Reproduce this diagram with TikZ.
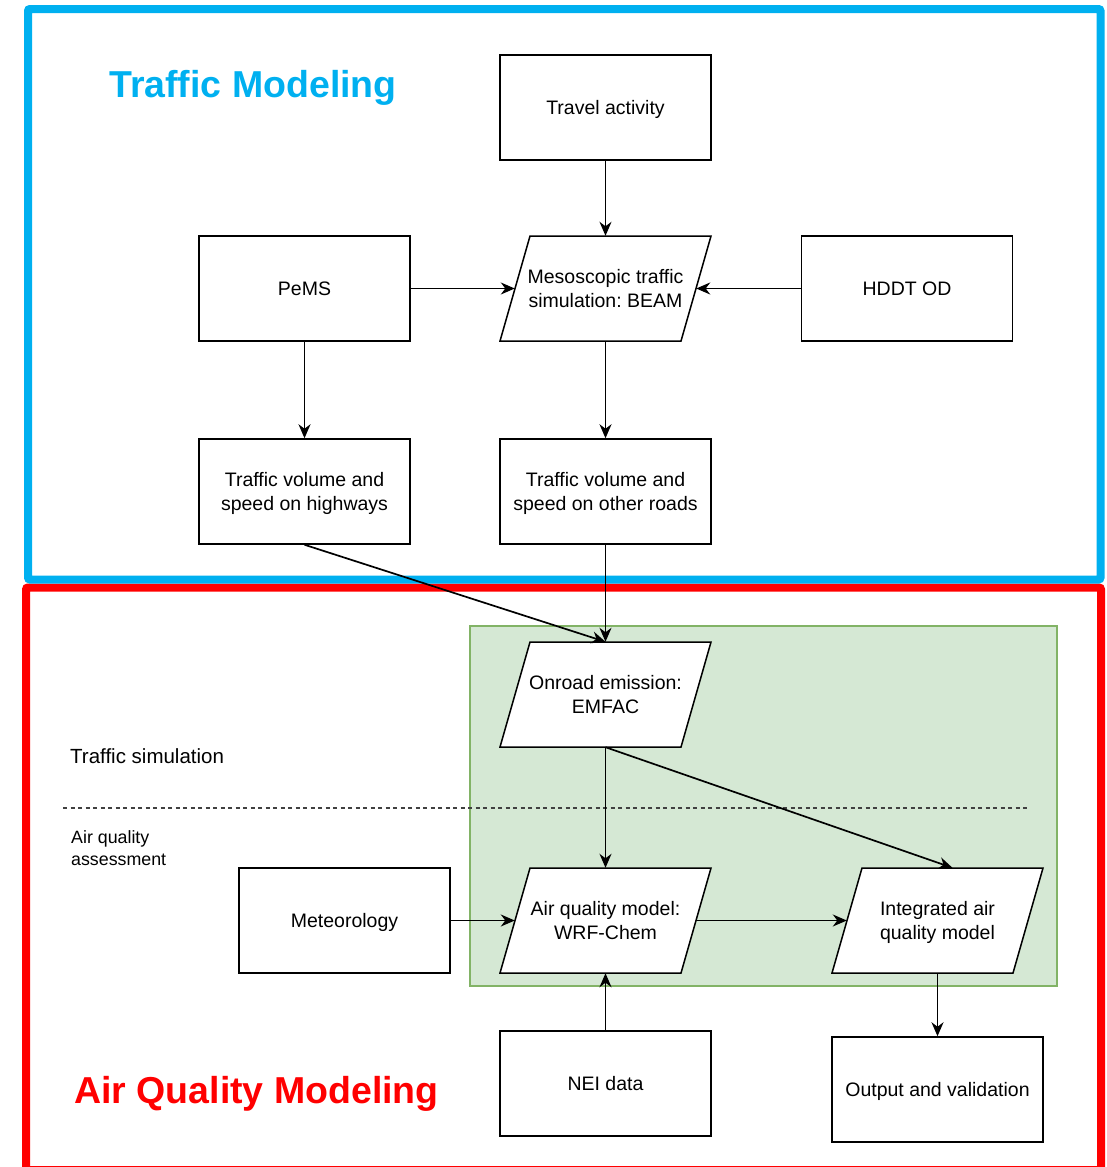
\documentclass[tikz,border=0pt]{standalone}
\usepackage{fontspec}
\setmainfont{Liberation Sans}
\usetikzlibrary{arrows.meta,calc}
\frenchspacing
\definecolor{tmblue}{HTML}{00B0F0}
\definecolor{aqred}{HTML}{FF0000}
\definecolor{gfill}{HTML}{D5E8D4}
\definecolor{gline}{HTML}{82B366}
\newcommand\bt[1]{\raisebox{-2.5pt}[\height][\depth]{\begin{tabular}{@{}c@{}}#1\end{tabular}}}
\tikzset{
  boxtxt/.style={font=\fontsize{19.5}{23.5}\selectfont, align=center, text=black},
  rectbox/.style={boxtxt, draw=black, fill=white, line width=1.5pt, minimum width=211pt, minimum height=105pt, inner sep=0pt},
  parafill/.style={draw=black, fill=white, line width=1.5pt, line join=miter},
  paratext/.style={boxtxt, minimum width=211pt, minimum height=105pt, inner sep=0pt},
  arr/.style={line width=1.7pt, draw=black, -{Stealth[length=14pt,width=12pt,inset=4.5pt]}},
  frame/.style={line width=8pt, rounded corners=2pt},
}
\newcommand\parashape[2]{\draw[parafill, shift={(#1,#2)}] (-75.5,-52.5) -- (105.5,-52.5) -- (75.5,52.5) -- (-105.5,52.5) -- cycle;}
\begin{document}
\begin{tikzpicture}[x=1pt,y=-1pt]
\useasboundingbox (0,0) rectangle (1107,1167);
% frames
\draw[frame, draw=aqred] (26,587.5) rectangle (1101,1170);
\draw[frame, draw=tmblue] (28,9) rectangle (1100.5,579.5);
% green area
\draw[fill=gfill, draw=gline, line width=1.3pt] (470,626) rectangle (1057,986);
% titles
\node[anchor=west, inner sep=0pt, text=tmblue, font=\fontsize{37.5}{44}\selectfont\bfseries] (ttm) at (109,88) {Traffic Modeling};
\node[anchor=west, inner sep=0pt, text=aqred, font=\fontsize{37.5}{44}\selectfont\bfseries] (taq) at (74,1094) {Air Quality Modeling};
% side labels
\node[anchor=west, inner sep=0pt, font=\fontsize{20.5}{24}\selectfont] (lts) at (70,756) {Traffic simulation};
\node[anchor=north west, inner sep=0pt, align=left, font=\fontsize{17.8}{22}\selectfont] (laq) at (71,830) {Air quality\\assessment};
\draw[dash pattern=on 4pt off 3.5pt, line width=1.3pt, draw=black!75] (63,808) -- (1027,808);
% rectangular boxes
\node[rectbox] (travel) at (605.5,107.5) {\bt{Travel activity}};
\node[rectbox] (pems) at (304.5,288.5) {\bt{PeMS}};
\node[rectbox] (hddt) at (907,288.5) {\bt{HDDT OD}};
\node[rectbox] (hw) at (304.5,491.5) {\bt{Traffic volume and\\speed on highways}};
\node[rectbox] (other) at (605.5,491.5) {\bt{Traffic volume and\\speed on other roads}};
\node[rectbox] (met) at (344.5,920.5) {\bt{Meteorology}};
\node[rectbox] (nei) at (605.5,1083.5) {\bt{NEI data}};
\node[rectbox] (out) at (937.5,1089.5) {\bt{Output and validation}};
% parallelograms
\parashape{605.5}{288.5}
\node[paratext] (meso) at (605.5,288.5) {\bt{Mesoscopic traffic\\simulation: BEAM}};
\parashape{605.5}{694.5}
\node[paratext] (onroad) at (605.5,694.5) {\bt{Onroad emission:\\EMFAC}};
\parashape{605.5}{920.5}
\node[paratext] (aq) at (605.5,920.5) {\bt{Air quality model:\\WRF-Chem}};
\parashape{937.5}{920.5}
\node[paratext] (integ) at (937.5,920.5) {\bt{Integrated air\\quality model}};
% connectors
\draw[arr] (travel.south) -- (meso.north);
\draw[arr] (pems.east) -- ([xshift=15pt]meso.west);
\draw[arr] (hddt.west) -- ([xshift=-15pt]meso.east);
\draw[arr] (pems.south) -- (hw.north);
\draw[arr] (meso.south) -- (other.north);
\draw[arr] (hw.south) -- (onroad.north);
\draw[arr] (other.south) -- (onroad.north);
\draw[arr] (onroad.south) -- (aq.north);
\draw[arr] (onroad.south) -- ([xshift=15pt]integ.north);
\draw[arr] (met.east) -- ([xshift=15pt]aq.west);
\draw[arr] ([xshift=-15pt]aq.east) -- ([xshift=15pt]integ.west);
\draw[arr] (nei.north) -- (aq.south);
\draw[arr] (integ.south) -- (out.north);
\end{tikzpicture}
\end{document}
